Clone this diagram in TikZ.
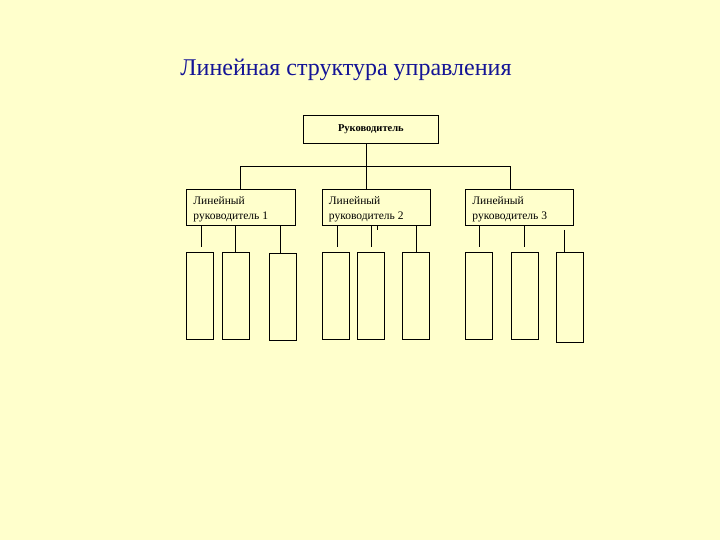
\documentclass[tikz,border=0pt]{standalone}
\usepackage{fontspec}
\setmainfont{Liberation Serif}
\begin{document}
\begin{tikzpicture}[x=1pt,y=-1pt,line width=0.8pt,
  box/.style={draw=black,fill=none}]
\fill[fill={rgb,255:red,255;green,255;blue,204}] (0,0) rectangle (720,540);
\useasboundingbox (0,0) rectangle (720,540);
\node[anchor=base west,inner sep=0,text={rgb,255:red,20;green,20;blue,150},font=\fontsize{24}{28}\selectfont] (title) at (180,76) {Линейная структура управления};
% top box
\node[box,minimum width=135,minimum height=28,anchor=north west,font=\fontsize{10.5}{12}\selectfont\bfseries] (top) at (303,115) {Руководитель};
\coordinate (j) at (366.7,166.7);
\coordinate (jl) at (240,166.7);
\coordinate (jr) at (510.7,166.7);
% level 2
\tikzset{mid/.style={draw,minimum width=#1,minimum height=36,anchor=north west,inner sep=0pt},
  midtxt/.style={anchor=base west,align=left,inner sep=0pt,font=\fontsize{11.5}{16}\selectfont}}
\node[mid=109] (m1) at (186,189) {};
\node[mid=108] (m2) at (321.7,189) {};
\node[mid=108] (m3) at (465,189) {};
\node[midtxt] (t1) at (193,220) {Линейный\\руководитель 1};
\node[midtxt] (t2) at (328.5,220) {Линейный\\руководитель 2};
\node[midtxt] (t3) at (472,220) {Линейный\\руководитель 3};
\draw (j |- top.south) -- (j);
\draw (jl) -- (jr);
\draw (jl) -- (jl |- m1.north);
\draw (j) -- (j |- m2.north);
\draw (jr) -- (jr |- m3.north);
% leaves
\tikzset{leaf/.style={draw,anchor=north west,minimum width=27,minimum height=#1,inner sep=0pt}}
\node[leaf=87] (a1) at (186,252.3) {};
\node[leaf=87] (a2) at (222.3,252.3) {};
\node[leaf=87] (a3) at (269.3,253.3) {};
\node[leaf=87] (b1) at (321.7,252.3) {};
\node[leaf=87] (b2) at (357.3,252.3) {};
\node[leaf=87] (b3) at (402.3,252.3) {};
\node[leaf=87] (c1) at (465.3,252.3) {};
\node[leaf=87] (c2) at (510.7,252.3) {};
\node[leaf=90] (c3) at (555.7,252.3) {};
% stubs
\coordinate (sa1) at (201.7,247.3);
\coordinate (sb1) at (337.3,247.3);
\coordinate (sb2) at (371.3,247.3);
\coordinate (sc1) at (479.7,247.3);
\coordinate (sc2) at (524.3,247.3);
\coordinate (tk) at (377.3,230);
\coordinate (sc3) at (564.7,230);
\draw (sa1 |- m1.south) -- (sa1);
\draw (235.7,0 |- m1.south) -- (235.7,0 |- a2.north);
\draw (280.3,0 |- m1.south) -- (280.3,0 |- a3.north);
\draw (sb1 |- m2.south) -- (sb1);
\draw (sb2 |- m2.south) -- (sb2);
\draw (tk |- m2.south) -- (tk);
\draw (416.7,0 |- m2.south) -- (416.7,0 |- b3.north);
\draw (sc1 |- m3.south) -- (sc1);
\draw (sc2 |- m3.south) -- (sc2);
\draw (sc3) -- (sc3 |- c3.north);
\end{tikzpicture}
\end{document}
